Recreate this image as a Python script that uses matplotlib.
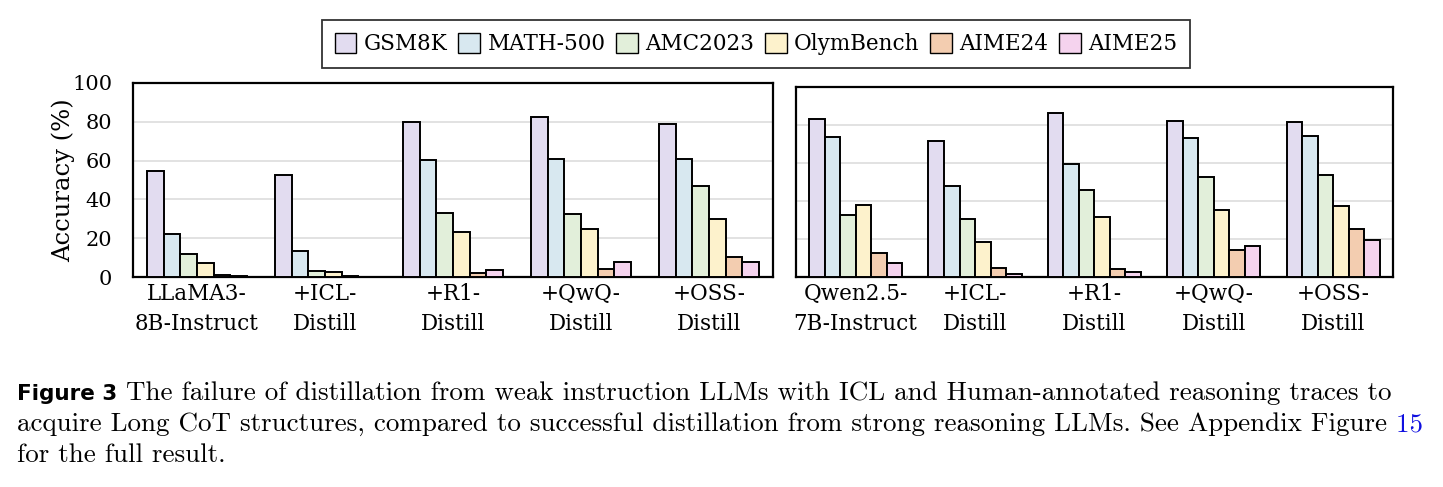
import matplotlib
matplotlib.use("Agg")
import matplotlib.pyplot as plt
import numpy as np
from matplotlib.patches import Patch

benchmarks = ["GSM8K", "MATH-500", "AMC2023", "OlymBench", "AIME24", "AIME25"]
colors = ["#e2dcf0", "#d8e8f0", "#e2efda", "#fdf2cc", "#f3cdb0", "#f5d3ee"]

llama_models = ["LLaMA3-\n8B-Instruct", "+ICL-\nDistill", "+R1-\nDistill", "+QwQ-\nDistill", "+OSS-\nDistill"]
qwen_models = ["Qwen2.5-\n7B-Instruct", "+ICL-\nDistill", "+R1-\nDistill", "+QwQ-\nDistill", "+OSS-\nDistill"]

# rows = models, columns = benchmarks
llama_acc = [
    [54.4, 22.4, 11.7, 7.1, 1.0, 0.5],
    [52.4, 13.3, 3.1, 2.6, 0.3, 0.2],
    [80.0, 60.5, 32.9, 23.4, 2.2, 3.6],
    [82.4, 60.7, 32.7, 25.0, 4.0, 7.9],
    [79.1, 60.7, 46.7, 30.0, 10.5, 7.6],
]
qwen_acc = [
    [83.0, 73.5, 32.6, 38.1, 12.5, 7.2],
    [71.6, 47.8, 30.7, 18.6, 4.6, 1.8],
    [86.2, 59.3, 45.9, 31.4, 4.2, 2.5],
    [82.0, 73.2, 52.5, 35.1, 14.0, 16.3],
    [81.6, 74.0, 53.8, 37.6, 25.3, 19.5],
]

caption1 = "The failure of distillation from weak instruction LLMs with ICL and Human-annotated reasoning traces to"
caption2 = "acquire Long CoT structures, compared to successful distillation from strong reasoning LLMs. See Appendix Figure 15"
caption3 = "for the full result."

serif = "DejaVu Serif"
fig = plt.figure(figsize=(14.43, 4.87), dpi=100)
ax1 = fig.add_axes([0.0922, 0.4312, 0.4435, 0.3984])
ax2 = fig.add_axes([0.5516, 0.4312, 0.4137, 0.3902])

width = 0.13
for ax, models, acc in [(ax1, llama_models, llama_acc), (ax2, qwen_models, qwen_acc)]:
    acc = np.array(acc)
    x = np.arange(len(models))
    for j, b in enumerate(benchmarks):
        ax.bar(x + (j - 2.5) * width, acc[:, j], width, color=colors[j],
               edgecolor="black", linewidth=1.4, zorder=3)
    ax.set_xlim(-0.5, len(models) - 0.5)
    ax.set_ylim(0, 100)
    ax.set_yticks([0, 20, 40, 60, 80, 100])
    ax.grid(axis="y", color="#dddddd", linewidth=1.2, zorder=0)
    ax.set_xticks(x)
    ax.set_xticklabels(models, fontsize=15.5, family=serif, linespacing=1.5)
    ax.tick_params(axis="x", length=0, pad=4)
    ax.tick_params(axis="y", length=0, labelsize=15, pad=15)
    for s in ax.spines.values():
        s.set_linewidth(1.6)
    for lab in ax.get_yticklabels():
        lab.set_family(serif)

ax2.set_yticklabels([])
ax1.set_ylabel("Accuracy (%)", fontsize=17.5, family=serif, labelpad=-2)

handles = [Patch(facecolor=c, edgecolor="black", linewidth=1.0) for c in colors]
leg = fig.legend(handles, benchmarks, loc="center", bbox_to_anchor=(0.524, 0.9097),
                 ncol=6, frameon=True, fancybox=False, handlelength=1.0, handleheight=1.1,
                 handletextpad=0.35, columnspacing=0.5, borderpad=0.6,
                 prop={"family": serif, "size": 15.5})
leg.get_frame().set_edgecolor("black")
leg.get_frame().set_linewidth(1.3)

# caption, sized so that its two long lines fit the reference text width
fig.canvas.draw()
renderer = fig.canvas.get_renderer()
sizes = []
for txt, avail in [(caption1, 1299), (caption2, 1408)]:
    probe = fig.text(0, 0, txt, fontsize=10, family="cmr10")
    sizes.append(10 * avail / probe.get_window_extent(renderer).width)
    probe.remove()
cap = min(sizes)

fig.text(17 / 1443, 1 - 400 / 487, "Figure 3", fontsize=15.5, fontweight="bold",
         family="DejaVu Sans", va="baseline")
fig.text(126 / 1443, 1 - 400 / 487, caption1, fontsize=cap, family="cmr10", va="baseline")
t2 = fig.text(17 / 1443, 1 - 431 / 487, caption2[:-3], fontsize=cap, family="cmr10",
              va="baseline")
ax1.annotate(" 15", xy=(1, 0), xycoords=t2, va="bottom", ha="left", fontsize=cap,
             family="cmr10", color="#1010e0", annotation_clip=False)
fig.text(17 / 1443, 1 - 462 / 487, caption3, fontsize=cap, family="cmr10", va="baseline")

fig.savefig("out.png", dpi=100)
